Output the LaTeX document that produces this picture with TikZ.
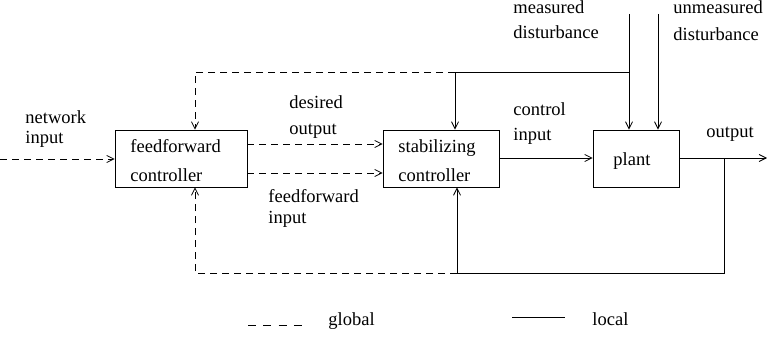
\documentclass[tikz,border=0pt]{standalone}
\usepackage{fontspec}
\setmainfont{Liberation Serif}
\newfontfamily\labelfont{Liberation Serif}
\usetikzlibrary{arrows.meta}
\begin{document}
\begin{tikzpicture}[x=1pt,y=-1pt,
  line width=0.9pt,
  lbl/.style={anchor=base west,inner sep=0pt,font=\labelfont\fontsize{18.5}{22}\selectfont},
  blk/.style={draw,inner sep=0pt},
  glob/.style={dash pattern=on 7pt off 5pt},
  tip/.style={-{Straight Barb[length=7pt,width=7pt,line width=0.8pt]}}]
\useasboundingbox (0,0) rectangle (767,337);
% blocks
\node[blk,minimum width=132pt,minimum height=57pt] (ff) at (181,158.5) {};
\node[blk,minimum width=116pt,minimum height=57pt] (sc) at (441,158.5) {};
\node[blk,minimum width=86pt,minimum height=57pt] (pl) at (636,158.5) {};
% block texts
\node[lbl] (fft1) at (130,152) {feedforward};
\node[lbl] (fft2) at (130,181) {controller};
\node[lbl] (sct1) at (398,152) {stabilizing};
\node[lbl] (sct2) at (398,181) {controller};
\node[lbl] (plt) at (613,165) {plant};
% signal labels
\node[lbl] (l1a) at (25,123) {network};
\node[lbl] (l1b) at (25,143) {input};
\node[lbl] (l2a) at (289,108) {desired};
\node[lbl] (l2b) at (289,134) {output};
\node[lbl] (l3a) at (268,202) {feedforward};
\node[lbl] (l3b) at (268,223) {input};
\node[lbl] (l4a) at (513,115) {control};
\node[lbl] (l4b) at (513,140) {input};
\node[lbl] (l5a) at (513,14) {measured};
\node[lbl] (l5b) at (513,39) {disturbance};
\node[lbl] (l6a) at (673,14) {unmeasured};
\node[lbl] (l6b) at (673,41) {disturbance};
\node[lbl] (l7) at (706,137) {output};
% junction points
\coordinate (nin) at (0,159);
\coordinate (md) at (629,14);
\coordinate (um) at (658,14);
\coordinate (mj) at (629,72);
\coordinate (tj) at (455,72);
\coordinate (tl) at (195,72);
\coordinate (out) at (767,158);
\coordinate (oj) at (724,158);
\coordinate (br) at (724,273);
\coordinate (bj) at (457,273);
\coordinate (bl) at (195,273);
% global (dashed) signals
\draw[glob,tip] (nin) -- (ff.west |- nin);
\draw[glob,tip] (ff.east |- 0,144) -- (sc.west |- 0,144);
\draw[glob,tip] (ff.east |- 0,173) -- (sc.west |- 0,173);
\draw[glob,tip] (tj) -- (tl) -- (tl |- ff.north);
\draw[glob,tip] (bj) -- (bl) -- (bl |- ff.south);
% local (solid) signals
\draw[tip] (md) -- (md |- pl.north);
\draw[tip] (um) -- (um |- pl.north);
\draw (mj) -- (tj);
\draw[tip] (tj) -- (tj |- sc.north);
\draw[tip] (sc.east |- 0,158) -- (pl.west |- 0,158);
\draw[tip] (pl.east |- out) -- (out);
\draw (oj) -- (br) -- (bj);
\draw[tip] (bj) -- (bj |- sc.south);
% legend
\coordinate (g1) at (248,325);
\coordinate (g2) at (302,325);
\coordinate (s1) at (512,317);
\coordinate (s2) at (565,317);
\draw[dash pattern=on 8pt off 7.3pt] (g1) -- (g2);
\node[lbl] (lg) at (328,325) {global};
\draw (s1) -- (s2);
\node[lbl] (ll) at (592,325) {local};
\end{tikzpicture}
\end{document}
